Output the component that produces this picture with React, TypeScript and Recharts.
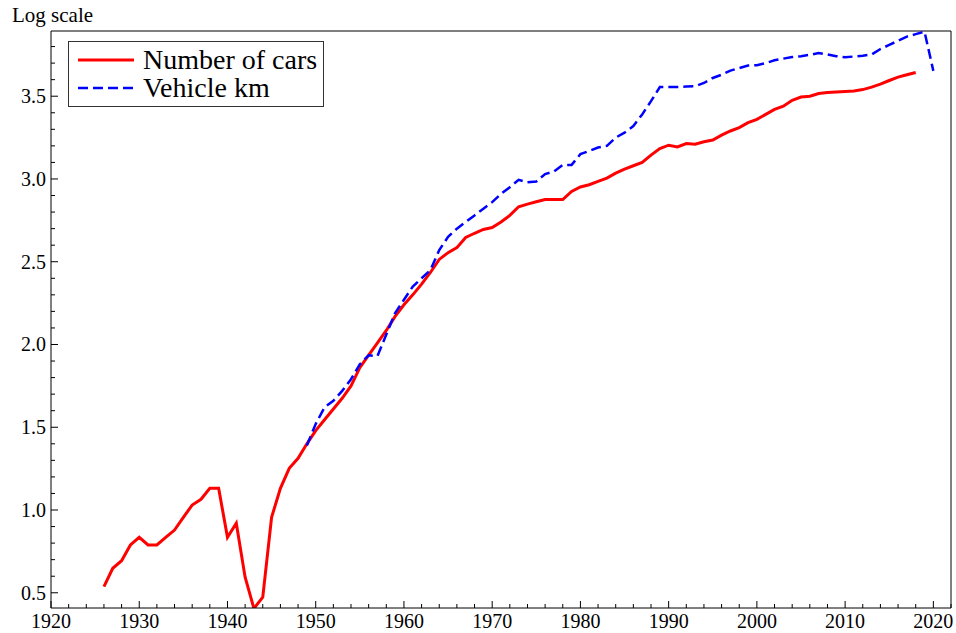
import { Line, LineChart, ReferenceLine, XAxis, YAxis } from "recharts";

// Number of cars (log scale), 1926–2018
const carsStart = 1926;
const cars = [
  0.537, 0.648, 0.694, 0.789, 0.835, 0.789, 0.789, 0.835, 0.879, 0.956,
  1.03, 1.065, 1.131, 1.131, 0.835, 0.92, 0.594, 0.405, 0.473, 0.956,
  1.131, 1.252, 1.312, 1.4, 1.48, 1.545, 1.61, 1.675, 1.75, 1.86,
  1.936, 2.01, 2.085, 2.17, 2.24, 2.3, 2.365, 2.435, 2.514, 2.555,
  2.585, 2.647, 2.672, 2.695, 2.707, 2.74, 2.78, 2.832, 2.848, 2.862,
  2.876, 2.876, 2.876, 2.925, 2.952, 2.965, 2.985, 3.005, 3.035, 3.06,
  3.08, 3.1, 3.144, 3.184, 3.204, 3.194, 3.214, 3.21, 3.225, 3.235,
  3.265, 3.29, 3.31, 3.34, 3.36, 3.39, 3.42, 3.44, 3.475, 3.495,
  3.5, 3.516, 3.522, 3.525, 3.528, 3.532, 3.54, 3.555, 3.573, 3.595,
  3.615, 3.63, 3.643,
];

// Vehicle km (log scale), 1949–2020
const kmStart = 1949;
const km = [
  1.39, 1.52, 1.62, 1.66, 1.72, 1.79, 1.88, 1.935, 1.93, 2.06,
  2.19, 2.27, 2.35, 2.4, 2.45, 2.57, 2.65, 2.7, 2.74, 2.78,
  2.82, 2.86, 2.91, 2.95, 2.995, 2.98, 2.985, 3.03, 3.045, 3.085,
  3.085, 3.15, 3.17, 3.19, 3.2, 3.25, 3.28, 3.32, 3.39, 3.47,
  3.555, 3.556, 3.556, 3.558, 3.56, 3.58, 3.61, 3.63, 3.655, 3.67,
  3.685, 3.687, 3.7, 3.717, 3.727, 3.737, 3.742, 3.75, 3.761, 3.752,
  3.742, 3.735, 3.74, 3.745, 3.752, 3.785, 3.81, 3.835, 3.86, 3.875,
  3.89, 3.653,
];

const xTicks: number[] = [];
for (let y = 1920; y <= 2022; y += 2) xTicks.push(y);
const yTicks: number[] = [];
for (let t = 5; t <= 38; t++) yTicks.push(t / 10);

const data: { year: number; cars?: number; km?: number }[] = [];
for (let y = carsStart; y <= kmStart + km.length - 1; y++) {
  const row: { year: number; cars?: number; km?: number } = { year: y };
  const ci = y - carsStart;
  if (ci < cars.length) row.cars = cars[ci];
  const ki = y - kmStart;
  if (ki >= 0 && ki < km.length) row.km = km[ki];
  data.push(row);
}

const font = "'Liberation Serif', 'Times New Roman', serif";

const XTick = (props: any) => {
  const { x, y, payload } = props;
  const major = payload.value % 10 === 0;
  return (
    <g>
      <line x1={x} x2={x} y1={y} y2={y - (major ? 7 : 4)} stroke="#000" />
      {major && (
        <text x={x} y={y + 20} textAnchor="middle" fontSize={20} fontFamily={font} fill="#000">
          {payload.value}
        </text>
      )}
    </g>
  );
};

const YTick = (props: any) => {
  const { x, y, payload } = props;
  const tenths = Math.round(payload.value * 10);
  const major = tenths % 5 === 0;
  return (
    <g>
      <line x1={x} x2={x + (major ? 7 : 4)} y1={y} y2={y} stroke="#000" />
      {major && (
        <text x={x - 5} y={y + 7} textAnchor="end" fontSize={20} fontFamily={font} fill="#000">
          {(tenths / 10).toFixed(1)}
        </text>
      )}
    </g>
  );
};

const LegendBox = () => (
  <svg
    width={256}
    height={66}
    style={{ position: "absolute", left: 68, top: 41 }}
  >
    <rect x={0.5} y={0.5} width={255} height={65} fill="#fff" stroke="#333" />
    <line x1={10} x2={66} y1={19} y2={19} stroke="#ff0000" strokeWidth={3} />
    <line x1={10} x2={66} y1={47} y2={47} stroke="#0000ff" strokeWidth={2.5} strokeDasharray="10 5" />
    <text x={75} y={28} fontSize={28} fontFamily={font} fill="#000">Number of cars</text>
    <text x={75} y={56} fontSize={28} fontFamily={font} fill="#000">Vehicle km</text>
  </svg>
);

export default function App() {
  return (
    <div style={{ position: "absolute", left: 0, top: 0, width: 956, height: 633, background: "#fff" }}>
      <LineChart
        width={956}
        height={633}
        data={data}
        margin={{ top: 31, right: 5, bottom: 0, left: 0 }}
      >
        <XAxis
          dataKey="year"
          type="number"
          domain={[1920, 2022]}
          ticks={xTicks}
          interval={0}
          height={25}
          tickSize={0}
          tickMargin={0}
          tickLine={false}
          axisLine={{ stroke: "#000" }}
          tick={<XTick />}
          allowDataOverflow
        />
        <YAxis
          type="number"
          domain={[0.408, 3.894]}
          ticks={yTicks}
          interval={0}
          width={51}
          tickSize={0}
          tickMargin={0}
          tickLine={false}
          axisLine={{ stroke: "#000" }}
          tick={<YTick />}
          allowDataOverflow
        />
        <ReferenceLine y={3.894} stroke="#000" />
        <ReferenceLine x={2022} stroke="#000" />
        <Line
          dataKey="cars"
          stroke="#ff0000"
          strokeWidth={3}
          dot={false}
          isAnimationActive={false}
        />
        <Line
          dataKey="km"
          stroke="#0000ff"
          strokeWidth={2.5}
          strokeDasharray="10 5"
          dot={false}
          isAnimationActive={false}
        />
      </LineChart>
      <div
        style={{
          position: "absolute",
          left: 12,
          top: 3,
          fontFamily: font,
          fontSize: 21,
          color: "#000",
        }}
      >
        Log scale
      </div>
      <LegendBox />
    </div>
  );
}
